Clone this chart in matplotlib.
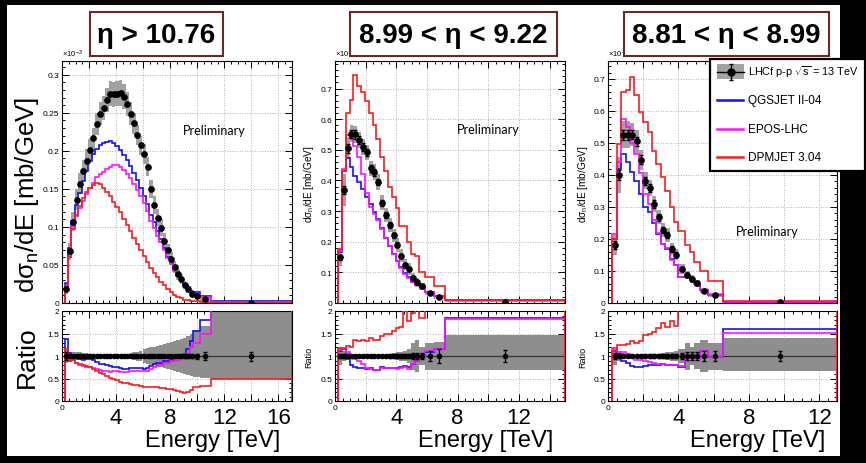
import numpy as np
import matplotlib.pyplot as plt
from matplotlib.patches import Rectangle
from matplotlib.ticker import MultipleLocator, FuncFormatter

plt.rcParams['font.family'] = ['Liberation Sans', 'DejaVu Sans']
plt.rcParams['mathtext.fontset'] = 'custom'
plt.rcParams['mathtext.rm'] = 'Liberation Sans'
plt.rcParams['mathtext.it'] = 'Liberation Sans:italic'
plt.rcParams['mathtext.bf'] = 'Liberation Sans:bold'
plt.rcParams['mathtext.default'] = 'regular'

# ---- eta > 10.76 ----
e1 = [0.2, 0.45, 0.7, 0.95, 1.2, 1.45, 1.7, 1.95, 2.2, 2.45,
      2.7, 2.95, 3.2, 3.45, 3.7, 3.95, 4.2, 4.45, 4.7, 4.95,
      5.2, 5.45, 5.7, 5.95, 6.2, 6.45, 6.7, 6.95, 7.2, 7.45,
      7.7, 7.95, 8.2, 8.45, 8.7, 8.95, 9.2, 9.45, 9.7, 10.2,
      11.0, 17.0]
d1 = [0.019, 0.068, 0.107, 0.136, 0.157, 0.174, 0.187, 0.201, 0.217, 0.235,
      0.249, 0.256, 0.267, 0.275, 0.274, 0.275, 0.276, 0.271, 0.261, 0.249,
      0.236, 0.221, 0.207, 0.196, 0.179, 0.150, 0.129, 0.112, 0.099, 0.082,
      0.069, 0.058, 0.047, 0.038, 0.031, 0.024, 0.018, 0.012, 0.009, 0.005,
      0.0004]
st1 = [0.0015, 0.002, 0.002, 0.002, 0.002, 0.002, 0.002, 0.002, 0.002, 0.002,
       0.002, 0.002, 0.002, 0.002, 0.002, 0.002, 0.002, 0.002, 0.002, 0.002,
       0.002, 0.002, 0.002, 0.002, 0.002, 0.0018, 0.0017, 0.0016, 0.0015, 0.0014,
       0.0013, 0.0012, 0.0011, 0.001, 0.0009, 0.0008, 0.0007, 0.0006, 0.0005, 0.0004,
       0.00004]
sy1 = [0.35, 0.16, 0.12, 0.10, 0.09, 0.08, 0.08, 0.07, 0.06, 0.06,
       0.06, 0.06, 0.06, 0.06, 0.06, 0.06, 0.06, 0.06, 0.06, 0.06,
       0.06, 0.06, 0.06, 0.065, 0.07, 0.08, 0.09, 0.10, 0.11, 0.12,
       0.13, 0.15, 0.17, 0.19, 0.21, 0.23, 0.25, 0.28, 0.30, 0.35,
       0.50]
rdn1 = [0.15, 0.10, 0.10, 0.08, 0.08, 0.07, 0.06, 0.05, 0.05, 0.05,
        0.05, 0.05, 0.05, 0.05, 0.05, 0.05, 0.05, 0.05, 0.05, 0.06,
        0.08, 0.10, 0.12, 0.145, 0.17, 0.19, 0.21, 0.23, 0.25, 0.27,
        0.29, 0.31, 0.33, 0.35, 0.37, 0.39, 0.42, 0.44, 0.46, 0.48,
        0.51]
rup1 = [0.15, 0.10, 0.10, 0.08, 0.08, 0.07, 0.06, 0.05, 0.05, 0.05,
        0.05, 0.05, 0.05, 0.05, 0.05, 0.05, 0.05, 0.05, 0.05, 0.06,
        0.08, 0.10, 0.12, 0.145, 0.17, 0.19, 0.21, 0.23, 0.25, 0.27,
        0.29, 0.31, 0.33, 0.35, 0.37, 0.40, 0.45, 0.50, 0.58, 0.66,
        1.20]
qgs1 = [0.026, 0.072, 0.108, 0.129, 0.145, 0.160, 0.174, 0.187, 0.196, 0.202,
        0.207, 0.210, 0.212, 0.213, 0.210, 0.206, 0.201, 0.195, 0.188, 0.180,
        0.171, 0.161, 0.151, 0.140, 0.130, 0.116, 0.106, 0.095, 0.084, 0.072,
        0.061, 0.053, 0.045, 0.037, 0.031, 0.025, 0.021, 0.016, 0.014, 0.009,
        0.002]
epos1 = [0.018, 0.061, 0.101, 0.114, 0.125, 0.134, 0.143, 0.151, 0.158, 0.165,
         0.169, 0.172, 0.176, 0.179, 0.181, 0.181, 0.179, 0.175, 0.170, 0.164,
         0.157, 0.148, 0.140, 0.131, 0.121, 0.108, 0.098, 0.088, 0.080, 0.069,
         0.059, 0.051, 0.042, 0.035, 0.030, 0.024, 0.019, 0.0144, 0.0117, 0.0075,
         0.0018]
dpm1 = [0.022, 0.061, 0.097, 0.115, 0.128, 0.138, 0.146, 0.151, 0.155, 0.158,
        0.156, 0.151, 0.146, 0.140, 0.133, 0.126, 0.119, 0.111, 0.103, 0.095,
        0.086, 0.078, 0.070, 0.062, 0.054, 0.046, 0.040, 0.034, 0.028, 0.023,
        0.019, 0.015, 0.011, 0.0085, 0.0065, 0.0045, 0.0035, 0.003, 0.0028, 0.0017,
        0.0002]

# ---- 8.99 < eta < 9.22 ----
e2 = [0.2, 0.45, 0.7, 0.95, 1.2, 1.45, 1.7, 1.95, 2.2, 2.45,
      2.7, 2.95, 3.2, 3.45, 3.7, 3.95, 4.2, 4.45, 4.7, 4.95,
      5.2, 5.5, 5.9, 6.45, 7.15, 15.0]
d2 = [0.149, 0.369, 0.505, 0.552, 0.551, 0.533, 0.509, 0.492, 0.440, 0.427,
      0.395, 0.327, 0.288, 0.254, 0.221, 0.190, 0.154, 0.125, 0.112, 0.082,
      0.067, 0.054, 0.033, 0.019, 0.0045]
st2 = [0.008, 0.013, 0.015, 0.014, 0.014, 0.013, 0.013, 0.012, 0.012, 0.011,
       0.011, 0.010, 0.009, 0.009, 0.008, 0.008, 0.007, 0.006, 0.006, 0.005,
       0.005, 0.004, 0.004, 0.003, 0.0006]
sy2 = [0.20, 0.14, 0.07, 0.05, 0.05, 0.05, 0.05, 0.05, 0.055, 0.06,
       0.065, 0.075, 0.08, 0.09, 0.10, 0.12, 0.14, 0.15, 0.17, 0.20,
       0.20, 0.20, 0.22, 0.25, 0.40]
rdn2 = [0.20, 0.12, 0.07, 0.05, 0.05, 0.05, 0.05, 0.05, 0.05, 0.05,
        0.05, 0.05, 0.05, 0.05, 0.06, 0.08, 0.10, 0.12, 0.15, 0.30,
        0.35, 0.20, 0.30, 0.32, 0.32]
rup2 = [0.20, 0.12, 0.07, 0.05, 0.05, 0.05, 0.05, 0.05, 0.05, 0.05,
        0.05, 0.05, 0.05, 0.05, 0.06, 0.08, 0.10, 0.12, 0.15, 0.30,
        0.35, 0.20, 0.30, 0.32, 0.47]
qgs2 = [0.165, 0.43, 0.474, 0.443, 0.416, 0.394, 0.372, 0.345, 0.324, 0.297,
        0.275, 0.245, 0.212, 0.185, 0.160, 0.138, 0.117, 0.097, 0.085, 0.068,
        0.060, 0.054, 0.036, 0.022, 0.0083]
epos2 = [0.17, 0.438, 0.55, 0.54, 0.514, 0.476, 0.421, 0.36, 0.315, 0.29,
         0.27, 0.24, 0.212, 0.185, 0.16, 0.137, 0.113, 0.094, 0.080, 0.067,
         0.060, 0.054, 0.037, 0.022, 0.0082]
dpm2 = [0.176, 0.43, 0.62, 0.663, 0.743, 0.71, 0.69, 0.66, 0.62, 0.58,
        0.535, 0.475, 0.43, 0.38, 0.345, 0.31, 0.252, 0.25, 0.20, 0.16,
        0.155, 0.10, 0.085, 0.056, 0.0095]

# ---- 8.81 < eta < 8.99 ----
e3 = [0.25, 0.5, 0.75, 1.0, 1.25, 1.5, 1.75, 2.0, 2.25, 2.5,
      2.75, 3.0, 3.25, 3.5, 3.75, 4.0, 4.35, 4.65, 4.9, 5.2,
      5.7, 6.5, 13.0]
d3 = [0.181, 0.401, 0.526, 0.526, 0.526, 0.505, 0.448, 0.382, 0.359, 0.309,
      0.268, 0.228, 0.213, 0.169, 0.151, 0.106, 0.0875, 0.075, 0.061, 0.038,
      0.025, 0.0025]
st3 = [0.012, 0.016, 0.016, 0.016, 0.015, 0.015, 0.014, 0.013, 0.012, 0.012,
       0.011, 0.010, 0.010, 0.009, 0.008, 0.007, 0.007, 0.006, 0.005, 0.004,
       0.003, 0.0003]
sy3 = [0.17, 0.14, 0.08, 0.08, 0.07, 0.07, 0.07, 0.07, 0.07, 0.08,
       0.08, 0.09, 0.10, 0.11, 0.12, 0.14, 0.16, 0.17, 0.18, 0.20,
       0.22, 0.40]
rdn3 = [0.20, 0.12, 0.07, 0.06, 0.05, 0.05, 0.05, 0.05, 0.05, 0.05,
        0.05, 0.06, 0.08, 0.10, 0.12, 0.15, 0.30, 0.20, 0.28, 0.35,
        0.30, 0.34]
rup3 = [0.20, 0.12, 0.07, 0.06, 0.05, 0.05, 0.05, 0.05, 0.05, 0.05,
        0.05, 0.06, 0.08, 0.10, 0.12, 0.15, 0.30, 0.20, 0.28, 0.35,
        0.30, 0.40]
qgs3 = [0.20, 0.42, 0.465, 0.44, 0.41, 0.38, 0.34, 0.30, 0.285, 0.25,
        0.215, 0.185, 0.17, 0.137, 0.12, 0.08, 0.083, 0.071, 0.058, 0.042,
        0.0245, 0.004]
epos3 = [0.215, 0.44, 0.575, 0.55, 0.50, 0.465, 0.405, 0.34, 0.31, 0.26,
         0.22, 0.185, 0.172, 0.135, 0.12, 0.082, 0.083, 0.071, 0.058, 0.042,
         0.0245, 0.0038]
dpm3 = [0.20, 0.497, 0.658, 0.665, 0.707, 0.651, 0.596, 0.564, 0.535, 0.474,
        0.434, 0.393, 0.351, 0.299, 0.252, 0.224, 0.182, 0.16, 0.127, 0.10,
        0.07, 0.0075]

titles = ['η > 10.76', '8.99 < η < 9.22', '8.81 < η < 8.99']
model_names = ['QGSJET II-04', 'EPOS-LHC', 'DPMJET 3.04']
model_colors = ['#1010ff', '#ff10ff', '#ff1a1a']

W, H = 866, 464
fig = plt.figure(figsize=(W / 100, H / 100), dpi=100, facecolor='black')


def rect(x0, y0, x1, y1):
    # pixel box (top-left origin) -> figure fraction
    return [x0 / W, 1 - y1 / H, (x1 - x0) / W, (y1 - y0) / H]


# white slide area behind the panels
bg = fig.add_axes([0, 0, 1, 1], zorder=-1)
bg.set_xlim(0, W)
bg.set_ylim(H, 0)
bg.axis('off')
bg.add_patch(Rectangle((7, 6), 833, 451, fc='white', ec='none'))

gfmt = FuncFormatter(lambda v, p: '%g' % round(v, 4))
xfmt = FuncFormatter(lambda v, p: '%d' % v if (v > 0 and v % 4 == 0) else '')


def style(ax):
    ax.xaxis.set_major_locator(MultipleLocator(2))
    ax.xaxis.set_minor_locator(MultipleLocator(0.5))
    ax.tick_params(which='both', direction='in', top=True, right=True,
                   labelsize=6, pad=2, width=0.7)
    ax.tick_params(which='major', length=5)
    ax.tick_params(which='minor', length=2.5)
    ax.grid(True, which='major', ls=(0, (1, 2)), color='#9a9a9a', lw=0.6)
    ax.set_axisbelow(True)
    for s in ax.spines.values():
        s.set_linewidth(0.8)


def draw_panel(axm, axr, edges, data, stat, sysr, rdn, rup, models, xmax, ymax, ystep):
    edges = np.array(edges)
    data = np.array(data)
    stat = np.array(stat)
    sysr = np.array(sysr)
    rdn = np.array(rdn)
    rup = np.array(rup)
    ctr = 0.5 * (edges[1:] + edges[:-1])
    wid = np.diff(edges)

    # main distribution
    axm.bar(ctr, 2 * sysr * data, bottom=data * (1 - sysr), width=wid,
            color='#a2a2a2', lw=0, zorder=1)
    for vals, col in zip(models, model_colors):
        axm.stairs(vals, edges, baseline=0, color=col, lw=1.2, zorder=2)
    axm.errorbar(ctr, data, yerr=stat, fmt='o', color='k', ms=3.8,
                 elinewidth=0.9, capsize=1.2, zorder=3)
    axm.set_xlim(0, xmax)
    axm.set_ylim(0, ymax)
    style(axm)
    axm.yaxis.set_major_locator(MultipleLocator(ystep))
    axm.yaxis.set_minor_locator(MultipleLocator(ystep / 5))
    axm.yaxis.set_major_formatter(gfmt)
    axm.tick_params(labelbottom=False)
    axm.text(0, 1.01, '×10$^{-3}$', transform=axm.transAxes, fontsize=5.5,
             ha='left', va='bottom')

    # ratio to data
    axr.bar(ctr, rup + rdn, bottom=1 - rdn, width=wid, color='#8e8e8e',
            lw=0, zorder=1)
    axr.axhline(1, color='#333333', lw=0.9, zorder=2)
    for vals, col in zip(models, model_colors):
        axr.stairs(np.array(vals) / data, edges, baseline=0, color=col,
                   lw=1.2, zorder=3)
    axr.errorbar(ctr, np.ones_like(data), yerr=stat / data, fmt='o', color='k',
                 ms=3, elinewidth=0.9, capsize=1.2, zorder=4)
    axr.set_xlim(0, xmax)
    axr.set_ylim(0, 2)
    style(axr)
    axr.yaxis.set_major_locator(MultipleLocator(0.5))
    axr.yaxis.set_minor_locator(MultipleLocator(0.1))
    axr.yaxis.set_major_formatter(gfmt)
    axr.xaxis.set_major_formatter(xfmt)
    axr.tick_params(axis='x', labelsize=16, pad=4)
    axr.text(0, -0.03, '0', transform=axr.transAxes, fontsize=6,
             ha='center', va='top')


panels = [
    (62, 292, e1, d1, st1, sy1, rdn1, rup1, [qgs1, epos1, dpm1], 17.0, 0.318, 0.05),
    (335, 565, e2, d2, st2, sy2, rdn2, rup2, [qgs2, epos2, dpm2], 15.0, 0.79, 0.1),
    (608, 837, e3, d3, st3, sy3, rdn3, rup3, [qgs3, epos3, dpm3], 13.0, 0.756, 0.1),
]

for (x0, x1, e, d, st, sy, rd, ru, mods, xmax, ymax, ystep) in panels:
    axm = fig.add_axes(rect(x0, 62, x1, 304))
    axr = fig.add_axes(rect(x0, 312, x1, 402))
    draw_panel(axm, axr, e, d, st, sy, rd, ru, mods, xmax, ymax, ystep)
    fig.text((x1 - 12) / W, 1 - 441 / H, 'Energy [TeV]', fontsize=17,
             ha='right', va='center')

# Preliminary labels
fig.axes[1].text(0.66, 0.715, 'Preliminary', transform=fig.axes[1].transAxes,
                 fontsize=9, family='Lato', ha='center', va='center')
fig.axes[3].text(0.665, 0.719, 'Preliminary', transform=fig.axes[3].transAxes,
                 fontsize=9, family='Lato', ha='center', va='center')
fig.axes[5].text(0.697, 0.298, 'Preliminary', transform=fig.axes[5].transAxes,
                 fontsize=9, family='Lato', ha='center', va='center')

# axis titles
fig.text(27 / W, 1 - 195 / H, 'dσ$_n$/dE [mb/GeV]', rotation=90, fontsize=18.5,
         ha='center', va='center')
fig.text(27 / W, 1 - 357 / H, 'Ratio', rotation=90, fontsize=19,
         ha='center', va='center')
for xl in (309, 583):
    fig.text(xl / W, 1 - 184 / H, 'dσ$_n$/dE [mb/GeV]', rotation=90,
             fontsize=7.2, ha='center', va='center')
    fig.text(xl / W, 1 - 357 / H, 'Ratio', rotation=90, fontsize=6.5,
             ha='center', va='center')

# overlay: pseudorapidity boxes and legend
ov = fig.add_axes([0, 0, 1, 1], zorder=5)
ov.set_xlim(0, W)
ov.set_ylim(H, 0)
ov.axis('off')
ov.patch.set_alpha(0)

for (bx0, bx1), t in zip([(90, 223), (350, 557), (624, 829)], titles):
    ov.add_patch(Rectangle((bx0, 13), bx1 - bx0, 44, fc='white',
                           ec='#6e2626', lw=1.5))
    ov.text(0.5 * (bx0 + bx1), 36, t, fontsize=20, fontweight='bold',
            ha='center', va='center')

ov.add_patch(Rectangle((710, 60), 155, 112, fc='white', ec='black', lw=1.6))
ov.add_patch(Rectangle((717, 65), 27, 15, fc='#a2a2a2', ec='none'))
ov.plot([717, 744], [72.5, 72.5], color='k', lw=1)
ov.errorbar([730.5], [72.5], yerr=[[7.5], [8.5]], fmt='o', color='k', ms=5,
            elinewidth=1, capsize=1.5)
ov.text(748, 72.5, 'LHCf p-p $\\sqrt{s}$ = 13 TeV', fontsize=7.8, va='center')
for yl, name, col in zip([101, 130, 158], model_names, model_colors):
    ov.plot([717, 743], [yl, yl], color=col, lw=1.8)
    ov.text(748, yl, name, fontsize=8.5, va='center')

fig.savefig('out.png', dpi=100, facecolor='black')
